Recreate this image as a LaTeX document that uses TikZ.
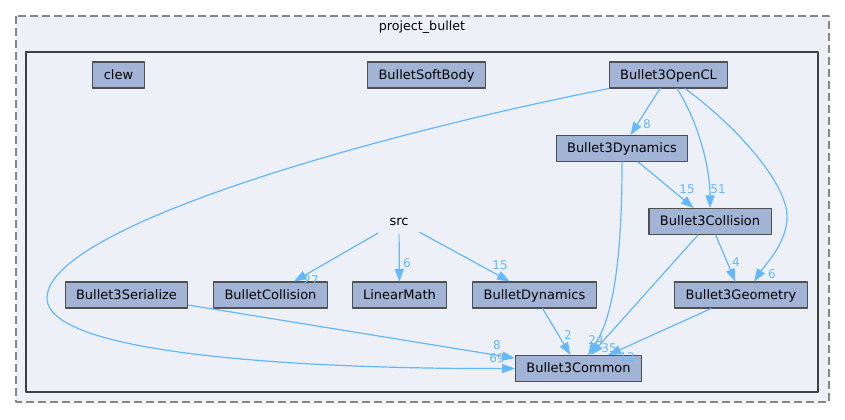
\documentclass[tikz,border=0pt]{standalone}
\usepackage{fontspec}
\setmainfont{DejaVu Sans}
\usetikzlibrary{arrows.meta}
\definecolor{edgeblue}{HTML}{63B8FF}
\definecolor{dirfill}{HTML}{A2B4D6}
\definecolor{clusterfill}{HTML}{EDF0F7}
\definecolor{dirline}{HTML}{404040}
\definecolor{boxline}{HTML}{505050}
\definecolor{outerline}{HTML}{868686}
\begin{document}
\begin{tikzpicture}[x=0.75pt, y=-0.75pt, line cap=round, line join=round,
    dirbox/.style={draw=boxline, fill=dirfill, line width=0.8pt, minimum height=19.5pt,
      inner xsep=8.2pt, inner ysep=0pt, text height=7.1pt, text depth=0.6pt,
      font=\fontsize{9.75}{11}\selectfont},
    plainbox/.style={dirbox, draw=none, fill=none},
    dep/.style={edgeblue, line width=0.9pt, -{Triangle[length=9.5pt,width=6.8pt]}},
    cnt/.style={text=edgeblue, inner sep=0pt, font=\fontsize{9}{10}\selectfont}]
    \useasboundingbox (0,0) rectangle (845,419);
    % 外側の枠(破線)
    \draw[outerline, fill=clusterfill, line width=0.9pt, dash pattern=on 6pt off 3pt, line cap=butt]
        (16,16) rectangle (829,402);
    \node[font=\fontsize{9.5}{11}\selectfont] (title) at (422,27.3) {project\_bullet};
    % 内側の枠
    \draw[dirline, fill=clusterfill, line width=2pt] (26,52) rectangle (818,392);
    % --- ディレクトリ ---
    \node[dirbox] (clew) at (118.5,75) {clew};
    \node[dirbox] (softbody) at (426.5,75) {BulletSoftBody};
    \node[dirbox] (ocl) at (668.5,75) {Bullet3OpenCL};
    \node[dirbox] (bdyn) at (622,148.5) {Bullet3Dynamics};
    \node[dirbox] (bcol) at (710,221.5) {Bullet3Collision};
    \node[plainbox] (src) at (399,221) {src};
    \node[dirbox] (bser) at (126.5,295) {Bullet3Serialize};
    \node[dirbox] (collision) at (270.5,295) {BulletCollision};
    \node[dirbox] (linmath) at (399.5,295) {LinearMath};
    \node[dirbox] (dynamics) at (534.5,295) {BulletDynamics};
    \node[dirbox] (bgeo) at (741,295) {Bullet3Geometry};
    \node[dirbox] (bcom) at (578.5,368.5) {Bullet3Common};
    % --- 依存の矢印 ---
    % Bullet3OpenCL から
    \draw[dep] (ocl.south west) .. controls (350,140) and (47,230) .. (47,298)
        .. controls (47,360) and (350,369) .. (bcom.west);
    \draw[dep] (ocl) -- (bdyn);
    \draw[dep] ([xshift=6.4pt]ocl.south) .. controls (700,125) and (710,170) .. (bcol.north);
    \draw[dep] ([xshift=12.4pt]ocl.south) .. controls (735,125) and (790,185) .. (787,220)
        .. controls (785,245) and (765,265) .. ([xshift=9.75pt]bgeo.north);
    % Bullet3Dynamics, Bullet3Collision から
    \draw[dep] (bdyn) -- (bcol);
    \draw[dep] (bdyn.south) .. controls (622,230) and (618,310) .. ([xshift=7.1pt]bcom.north);
    \draw[dep] (bcol) -- (bgeo);
    \draw[dep] (bcol) -- (bcom);
    \draw[dep] (bgeo) -- (bcom);
    % src から
    \draw[dep] (src) -- (collision);
    \draw[dep] (src) -- (linmath);
    \draw[dep] (src) -- (dynamics);
    \draw[dep] (dynamics) -- (bcom);
    \draw[dep] (bser) -- (bcom);
    % --- 数字のラベル ---
    \node[cnt] (n69) at (497,358) {69};
    \node[cnt] (n8a) at (647,124) {8};
    \node[cnt] (n51) at (718,189) {51};
    \node[cnt] (n6a) at (772,274) {6};
    \node[cnt] (n15a) at (687,189) {15};
    \node[cnt] (n24) at (596,340) {24};
    \node[cnt] (n4) at (736,262) {4};
    \node[cnt] (n35) at (609,348) {35};
    \node[cnt] (n12) at (627,357) {12};
    \node[cnt] (n27) at (311,280) {27};
    \node[cnt] (n6b) at (407,263) {6};
    \node[cnt] (n15b) at (500,265) {15};
    \node[cnt] (n2) at (568,335) {2};
    \node[cnt] (n8b) at (497,345) {8};
\end{tikzpicture}
\end{document}
